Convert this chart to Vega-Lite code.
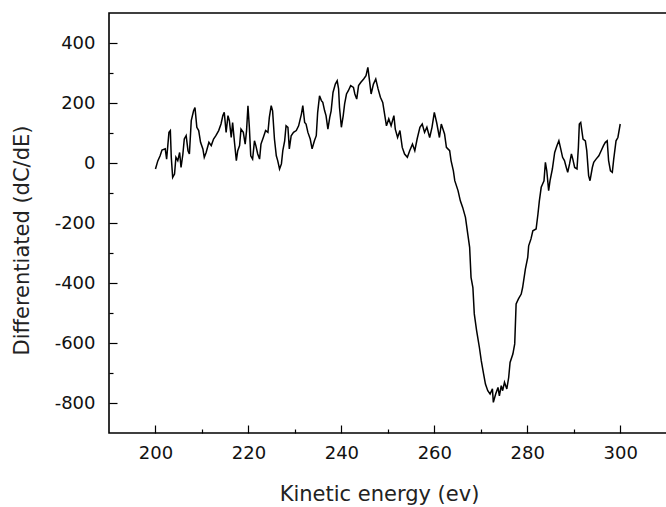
{
  "$schema": "https://vega.github.io/schema/vega-lite/v6.json",
  "width": 580,
  "height": 420,
  "autosize": {"type": "none"},
  "padding": {"left": 109, "top": 13, "right": 0, "bottom": 74},
  "background": "white",
  "config": {
    "view": {"stroke": "black", "strokeWidth": 1.6},
    "axis": {
      "domain": false,
      "grid": false,
      "labelFont": "DejaVu Sans",
      "labelFontSize": 18,
      "labelColor": "#111111",
      "titleFont": "DejaVu Sans",
      "titleFontSize": 21,
      "titleFontWeight": "normal",
      "titleColor": "#222222",
      "tickColor": "black",
      "tickWidth": 1.2
    }
  },
  "data": {
    "values": [
      {"E": 200.0, "D": -20}, {"E": 200.5, "D": 7}, {"E": 201.0, "D": 24}, {"E": 201.4, "D": 43},
      {"E": 202.1, "D": 47}, {"E": 202.4, "D": 13}, {"E": 202.9, "D": 102}, {"E": 203.2, "D": 108},
      {"E": 203.4, "D": 19}, {"E": 203.7, "D": -48}, {"E": 204.1, "D": -37}, {"E": 204.4, "D": 19},
      {"E": 204.8, "D": 8}, {"E": 205.2, "D": 35}, {"E": 205.5, "D": -15}, {"E": 205.9, "D": 30},
      {"E": 206.2, "D": 80}, {"E": 206.6, "D": 91}, {"E": 207.0, "D": 41}, {"E": 207.3, "D": 30},
      {"E": 207.7, "D": 141}, {"E": 208.2, "D": 174}, {"E": 208.5, "D": 185}, {"E": 208.9, "D": 119},
      {"E": 209.3, "D": 108}, {"E": 209.7, "D": 69}, {"E": 210.2, "D": 47}, {"E": 210.5, "D": 19},
      {"E": 210.9, "D": 35}, {"E": 211.5, "D": 69}, {"E": 212.0, "D": 58}, {"E": 212.5, "D": 80},
      {"E": 213.0, "D": 91}, {"E": 213.6, "D": 108}, {"E": 214.1, "D": 130}, {"E": 214.5, "D": 158},
      {"E": 214.8, "D": 169}, {"E": 215.2, "D": 102}, {"E": 215.6, "D": 158}, {"E": 215.9, "D": 141},
      {"E": 216.3, "D": 85}, {"E": 216.6, "D": 135}, {"E": 217.0, "D": 69}, {"E": 217.4, "D": 8},
      {"E": 217.7, "D": 41}, {"E": 218.1, "D": 58}, {"E": 218.4, "D": 113}, {"E": 218.9, "D": 102},
      {"E": 219.3, "D": 63}, {"E": 219.6, "D": 108}, {"E": 219.9, "D": 191}, {"E": 220.2, "D": 119},
      {"E": 220.5, "D": 24}, {"E": 220.9, "D": 13}, {"E": 221.3, "D": 74}, {"E": 221.6, "D": 58},
      {"E": 222.0, "D": 30}, {"E": 222.4, "D": 13}, {"E": 222.7, "D": 63}, {"E": 223.2, "D": 85},
      {"E": 223.7, "D": 108}, {"E": 224.2, "D": 102}, {"E": 224.5, "D": 152}, {"E": 224.9, "D": 191},
      {"E": 225.2, "D": 174}, {"E": 225.6, "D": 80}, {"E": 226.0, "D": 24}, {"E": 226.3, "D": 8},
      {"E": 226.7, "D": -20}, {"E": 227.1, "D": -3}, {"E": 227.4, "D": 41}, {"E": 227.8, "D": 74},
      {"E": 228.1, "D": 124}, {"E": 228.5, "D": 119}, {"E": 228.8, "D": 47}, {"E": 229.2, "D": 91},
      {"E": 229.7, "D": 102}, {"E": 230.3, "D": 108}, {"E": 230.8, "D": 124}, {"E": 231.4, "D": 163},
      {"E": 231.7, "D": 191}, {"E": 232.1, "D": 135}, {"E": 232.4, "D": 130}, {"E": 232.8, "D": 102},
      {"E": 233.3, "D": 80}, {"E": 233.7, "D": 47}, {"E": 234.2, "D": 74}, {"E": 234.6, "D": 91},
      {"E": 234.9, "D": 169}, {"E": 235.3, "D": 224}, {"E": 235.7, "D": 208}, {"E": 236.0, "D": 202},
      {"E": 236.4, "D": 174}, {"E": 236.7, "D": 158}, {"E": 237.1, "D": 113}, {"E": 237.5, "D": 152},
      {"E": 237.8, "D": 174}, {"E": 238.2, "D": 235}, {"E": 238.7, "D": 263}, {"E": 239.1, "D": 274},
      {"E": 239.4, "D": 247}, {"E": 239.6, "D": 185}, {"E": 240.0, "D": 119}, {"E": 240.4, "D": 158},
      {"E": 240.7, "D": 197}, {"E": 241.1, "D": 230}, {"E": 241.5, "D": 241}, {"E": 242.0, "D": 258},
      {"E": 242.6, "D": 252}, {"E": 242.9, "D": 230}, {"E": 243.3, "D": 213}, {"E": 243.7, "D": 258},
      {"E": 244.2, "D": 269}, {"E": 244.8, "D": 280}, {"E": 245.3, "D": 291}, {"E": 245.7, "D": 319},
      {"E": 246.1, "D": 269}, {"E": 246.4, "D": 230}, {"E": 246.9, "D": 263}, {"E": 247.4, "D": 280},
      {"E": 247.9, "D": 247}, {"E": 248.4, "D": 219}, {"E": 248.9, "D": 202}, {"E": 249.3, "D": 163},
      {"E": 249.7, "D": 124}, {"E": 250.2, "D": 147}, {"E": 250.7, "D": 124}, {"E": 251.3, "D": 158},
      {"E": 251.6, "D": 113}, {"E": 252.1, "D": 85}, {"E": 252.6, "D": 108}, {"E": 253.1, "D": 52},
      {"E": 253.6, "D": 30}, {"E": 254.2, "D": 19}, {"E": 254.7, "D": 41}, {"E": 255.3, "D": 63},
      {"E": 255.8, "D": 41}, {"E": 256.3, "D": 80}, {"E": 256.9, "D": 119}, {"E": 257.4, "D": 130},
      {"E": 257.9, "D": 102}, {"E": 258.4, "D": 119}, {"E": 259.0, "D": 85}, {"E": 259.5, "D": 119},
      {"E": 260.0, "D": 169}, {"E": 260.5, "D": 135}, {"E": 261.1, "D": 85}, {"E": 261.5, "D": 130},
      {"E": 262.2, "D": 97}, {"E": 262.6, "D": 52}, {"E": 263.3, "D": 41}, {"E": 263.6, "D": 8},
      {"E": 264.1, "D": -26}, {"E": 264.4, "D": -59}, {"E": 265.1, "D": -92}, {"E": 265.6, "D": -126},
      {"E": 266.1, "D": -148}, {"E": 266.7, "D": -181}, {"E": 267.2, "D": -237}, {"E": 267.6, "D": -281},
      {"E": 267.9, "D": -381}, {"E": 268.3, "D": -415}, {"E": 268.6, "D": -503}, {"E": 269.1, "D": -559},
      {"E": 269.7, "D": -615}, {"E": 270.1, "D": -659}, {"E": 270.6, "D": -703}, {"E": 271.0, "D": -737},
      {"E": 271.5, "D": -759}, {"E": 272.0, "D": -770}, {"E": 272.5, "D": -753}, {"E": 272.7, "D": -798},
      {"E": 273.2, "D": -770}, {"E": 273.7, "D": -748}, {"E": 274.0, "D": -776}, {"E": 274.4, "D": -742},
      {"E": 274.7, "D": -759}, {"E": 275.1, "D": -731}, {"E": 275.6, "D": -753}, {"E": 276.0, "D": -715},
      {"E": 276.3, "D": -665}, {"E": 276.9, "D": -637}, {"E": 277.3, "D": -603}, {"E": 277.6, "D": -470},
      {"E": 278.1, "D": -453}, {"E": 278.7, "D": -437}, {"E": 279.0, "D": -415}, {"E": 279.6, "D": -353},
      {"E": 280.1, "D": -315}, {"E": 280.3, "D": -276}, {"E": 280.8, "D": -253}, {"E": 281.2, "D": -226},
      {"E": 281.9, "D": -220}, {"E": 282.3, "D": -170}, {"E": 282.6, "D": -126}, {"E": 283.0, "D": -81},
      {"E": 283.3, "D": -70}, {"E": 283.6, "D": -59}, {"E": 283.9, "D": 2}, {"E": 284.2, "D": -26},
      {"E": 284.6, "D": -92}, {"E": 284.9, "D": -59}, {"E": 285.4, "D": -20}, {"E": 285.9, "D": 35},
      {"E": 286.4, "D": 58}, {"E": 286.8, "D": 74}, {"E": 287.2, "D": 47}, {"E": 287.6, "D": 19},
      {"E": 288.0, "D": 8}, {"E": 288.4, "D": -15}, {"E": 288.7, "D": -31}, {"E": 289.1, "D": -3},
      {"E": 289.5, "D": 30}, {"E": 289.8, "D": 13}, {"E": 290.2, "D": -15}, {"E": 290.7, "D": -20},
      {"E": 291.0, "D": 52}, {"E": 291.2, "D": 130}, {"E": 291.5, "D": 135}, {"E": 292.0, "D": 80},
      {"E": 292.5, "D": 74}, {"E": 292.8, "D": 41}, {"E": 293.2, "D": -42}, {"E": 293.5, "D": -59},
      {"E": 294.0, "D": -15}, {"E": 294.3, "D": 2}, {"E": 294.8, "D": 13}, {"E": 295.4, "D": 24},
      {"E": 295.9, "D": 41}, {"E": 296.4, "D": 58}, {"E": 296.8, "D": 69}, {"E": 297.2, "D": 74},
      {"E": 297.5, "D": 8}, {"E": 297.9, "D": -26}, {"E": 298.3, "D": -31}, {"E": 298.6, "D": 13},
      {"E": 299.1, "D": 74}, {"E": 299.5, "D": 85}, {"E": 300.0, "D": 130}
    ]
  },
  "mark": {"type": "line", "color": "black", "strokeWidth": 1.5},
  "encoding": {
    "x": {
      "field": "E",
      "type": "quantitative",
      "scale": {"domain": [190, 314.8], "nice": false, "zero": false},
      "axis": {
        "title": "Kinetic energy (ev)",
        "values": [200, 210, 220, 230, 240, 250, 260, 270, 280, 290, 300],
        "labelExpr": "datum.value % 20 === 0 ? toString(datum.value) : ''",
        "tickSize": {"condition": {"test": "datum.value % 20 === 0", "value": -8}, "value": -4},
        "labelPadding": 19,
        "labelBaseline": "top",
        "titleBaseline": "top",
        "titleY": 50,
        "titleX": 270,
        "titleAnchor": "middle"
      }
    },
    "y": {
      "field": "D",
      "type": "quantitative",
      "scale": {"domain": [-900, 500], "nice": false, "zero": false},
      "axis": {
        "title": "Differentiated (dC/dE)",
        "values": [-800, -700, -600, -500, -400, -300, -200, -100, 0, 100, 200, 300, 400],
        "labelExpr": "datum.value % 200 === 0 ? toString(datum.value) : ''",
        "tickSize": {"condition": {"test": "datum.value % 200 === 0", "value": -8}, "value": -4},
        "labelPadding": 22,
        "titleX": -87,
        "titleY": 227,
        "titleAngle": -90,
        "titleBaseline": "middle",
        "titleAlign": "center"
      }
    }
  }
}
